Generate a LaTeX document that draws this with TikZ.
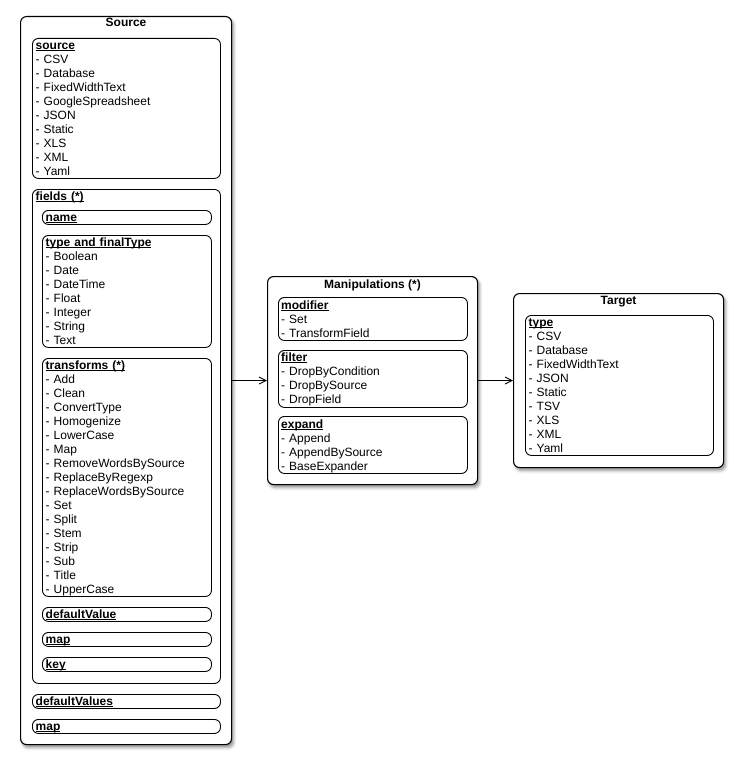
\documentclass[tikz,border=0pt]{standalone}
\usepackage{fontspec}
\setmainfont{Liberation Sans}
\usetikzlibrary{arrows.meta,shadows.blur}
\newsavebox\hdbox
\newcommand\hd[1]{\sbox\hdbox{\bfseries #1}\rlap{\rule[-1.6pt]{\wd\hdbox}{0.9pt}}\usebox\hdbox}
\newcommand\fs{\fontsize{12}{14}\selectfont}
\newcommand\st{\rule{0pt}{9pt}}
\tikzset{
  outerbox/.style={draw, line width=1.1pt, rounded corners=6pt, fill=white, inner sep=0pt,
    anchor=north west, blur shadow={shadow xshift=2pt, shadow yshift=-3pt, shadow blur radius=3pt, shadow opacity=45}},
  inbox/.style={draw, line width=0.9pt, rounded corners=6pt, inner sep=0pt, anchor=north west},
  txt/.style={inner sep=0pt, anchor=north west, align=left, font=\fs, text width=175pt},
  ttl/.style={inner sep=0pt, anchor=base, font=\fs\bfseries},
  arr/.style={line width=0.9pt, -{Straight Barb[length=7pt,width=7pt,line width=0.9pt]}}
}
\begin{document}
\begin{tikzpicture}[x=1pt,y=-1pt]
\useasboundingbox (0,0) rectangle (744,768);
% ---------- Source ----------
\node[outerbox, minimum width=211pt, minimum height=728pt] (src) at (20,16) {};
\node[ttl] (srcT) at ([yshift=-11pt]src.north) {Source};
\node[inbox, minimum width=188pt, minimum height=140pt] (source) at (32,38) {};
\node[txt] (sourceT) at ([xshift=3.5pt,yshift=-2.5pt]source.north west) {\st\hd{source}\\- CSV\\- Database\\- FixedWidthText\\- GoogleSpreadsheet\\- JSON\\- Static\\- XLS\\- XML\\- Yaml};
\node[inbox, minimum width=188pt, minimum height=494pt] (fields) at (32,189) {};
\node[txt] (fieldsT) at ([xshift=3.5pt,yshift=-2.5pt]fields.north west) {\st\hd{fields (*)}};
\node[inbox, minimum width=169pt, minimum height=14pt] (name) at (42,210) {};
\node[txt] (nameT) at ([xshift=3.5pt,yshift=-2.5pt]name.north west) {\st\hd{name}};
\node[inbox, minimum width=169pt, minimum height=112pt] (type) at (42,235) {};
\node[txt] (typeT) at ([xshift=3.5pt,yshift=-2.5pt]type.north west) {\st\hd{type and finalType}\\- Boolean\\- Date\\- DateTime\\- Float\\- Integer\\- String\\- Text};
\node[inbox, minimum width=169pt, minimum height=238pt] (transforms) at (42,358) {};
\node[txt] (transformsT) at ([xshift=3.5pt,yshift=-2.5pt]transforms.north west) {\st\hd{transforms (*)}\\- Add\\- Clean\\- ConvertType\\- Homogenize\\- LowerCase\\- Map\\- RemoveWordsBySource\\- ReplaceByRegexp\\- ReplaceWordsBySource\\- Set\\- Split\\- Stem\\- Strip\\- Sub\\- Title\\- UpperCase};
\node[inbox, minimum width=169pt, minimum height=14pt] (defval) at (42,607) {};
\node[txt] (defvalT) at ([xshift=3.5pt,yshift=-2.5pt]defval.north west) {\st\hd{defaultValue}};
\node[inbox, minimum width=169pt, minimum height=14pt] (fmap) at (42,632) {};
\node[txt] (fmapT) at ([xshift=3.5pt,yshift=-2.5pt]fmap.north west) {\st\hd{map}};
\node[inbox, minimum width=169pt, minimum height=14pt] (key) at (42,657) {};
\node[txt] (keyT) at ([xshift=3.5pt,yshift=-2.5pt]key.north west) {\st\hd{key}};
\node[inbox, minimum width=188pt, minimum height=14pt] (defvals) at (32,694) {};
\node[txt] (defvalsT) at ([xshift=3.5pt,yshift=-2.5pt]defvals.north west) {\st\hd{defaultValues}};
\node[inbox, minimum width=188pt, minimum height=14pt] (smap) at (32,719) {};
\node[txt] (smapT) at ([xshift=3.5pt,yshift=-2.5pt]smap.north west) {\st\hd{map}};
% ---------- Manipulations ----------
\node[outerbox, minimum width=210pt, minimum height=208pt] (man) at (267,276) {};
\node[ttl] (manT) at ([yshift=-12pt]man.north) {Manipulations (*)};
\node[inbox, minimum width=189pt, minimum height=43pt] (modifier) at (278,297) {};
\node[txt] (modifierT) at ([xshift=3pt,yshift=-3pt]modifier.north west) {\st\hd{modifier}\\- Set\\- TransformField};
\node[inbox, minimum width=189pt, minimum height=57pt] (filter) at (278,350) {};
\node[txt] (filterT) at ([xshift=3pt,yshift=-2.5pt]filter.north west) {\st\hd{filter}\\- DropByCondition\\- DropBySource\\- DropField};
\node[inbox, minimum width=189pt, minimum height=57pt] (expand) at (278,416) {};
\node[txt] (expandT) at ([xshift=3pt,yshift=-3pt]expand.north west) {\st\hd{expand}\\- Append\\- AppendBySource\\- BaseExpander};
% ---------- Target ----------
\node[outerbox, minimum width=210pt, minimum height=174pt] (tgt) at (513,293) {};
\node[ttl] (tgtT) at ([yshift=-11pt]tgt.north) {Target};
\node[inbox, minimum width=188pt, minimum height=140pt] (ttype) at (525,315) {};
\node[txt] (ttypeT) at ([xshift=3.5pt,yshift=-2.5pt]ttype.north west) {\st\hd{type}\\- CSV\\- Database\\- FixedWidthText\\- JSON\\- Static\\- TSV\\- XLS\\- XML\\- Yaml};
% ---------- connectors ----------
\draw[arr] (src) -- (man);
\draw[arr] (man) -- (tgt);
\end{tikzpicture}
\end{document}
